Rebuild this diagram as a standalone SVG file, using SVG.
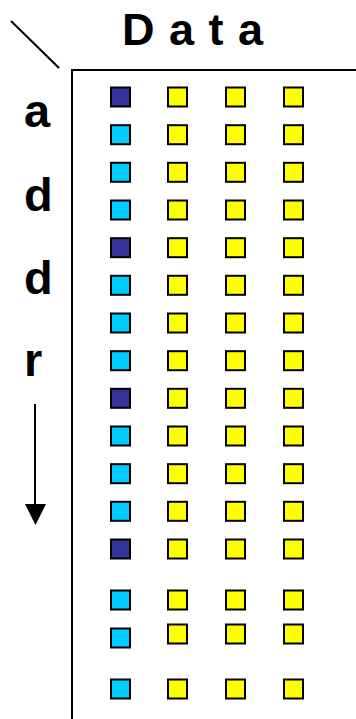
<svg xmlns="http://www.w3.org/2000/svg" width="356" height="719" viewBox="0 0 356 719">
<style>
.sq{stroke:#000;stroke-width:2}
.d{fill:#333399}
.c{fill:#00CCFF}
.y{fill:#FFFF00}
.t{font-family:"Liberation Sans",Arial,sans-serif;font-weight:bold;fill:#000}
.ln{stroke:#000;stroke-width:2;fill:none}
</style>
<defs>
<marker id="ah" markerWidth="10" markerHeight="10" refX="10" refY="5" orient="auto" markerUnits="userSpaceOnUse" viewBox="0 0 10 10">
<path d="M0,0 L10,5 L0,10 z" fill="#000"/>
</marker>
</defs>
<g id="frame">
<line class="ln" x1="11" y1="21" x2="59" y2="68"/>
<polyline class="ln" points="356,70 72,70 72,719"/>
</g>
<text id="title" class="t" x="122" y="45" font-size="45" textLength="141" lengthAdjust="spacing">D a t a</text>
<g id="axis">
<text class="t" x="24" y="127" font-size="47">a</text>
<text class="t" x="24" y="211" font-size="47">d</text>
<text class="t" x="24" y="294" font-size="47">d</text>
<text class="t" x="24" y="376" font-size="47">r</text>
</g>
<g id="connectors">
<line x1="35" y1="404" x2="35" y2="506" stroke="#000" stroke-width="2"/>
<path d="M25,504 L46,504 L35.5,525 z" fill="#000"/>
</g>
<g id="grid">
<g id="row1"><rect class="sq d" x="111" y="87.5" width="19" height="19"/><rect class="sq y" x="168" y="87.5" width="19" height="19"/><rect class="sq y" x="226" y="87.5" width="19" height="19"/><rect class="sq y" x="284" y="87.5" width="19" height="19"/></g>
<g id="row2"><rect class="sq c" x="111" y="125.2" width="19" height="19"/><rect class="sq y" x="168" y="125.2" width="19" height="19"/><rect class="sq y" x="226" y="125.2" width="19" height="19"/><rect class="sq y" x="284" y="125.2" width="19" height="19"/></g>
<g id="row3"><rect class="sq c" x="111" y="162.8" width="19" height="19"/><rect class="sq y" x="168" y="162.8" width="19" height="19"/><rect class="sq y" x="226" y="162.8" width="19" height="19"/><rect class="sq y" x="284" y="162.8" width="19" height="19"/></g>
<g id="row4"><rect class="sq c" x="111" y="200.5" width="19" height="19"/><rect class="sq y" x="168" y="200.5" width="19" height="19"/><rect class="sq y" x="226" y="200.5" width="19" height="19"/><rect class="sq y" x="284" y="200.5" width="19" height="19"/></g>
<g id="row5"><rect class="sq d" x="111" y="238.2" width="19" height="19"/><rect class="sq y" x="168" y="238.2" width="19" height="19"/><rect class="sq y" x="226" y="238.2" width="19" height="19"/><rect class="sq y" x="284" y="238.2" width="19" height="19"/></g>
<g id="row6"><rect class="sq c" x="111" y="275.8" width="19" height="19"/><rect class="sq y" x="168" y="275.8" width="19" height="19"/><rect class="sq y" x="226" y="275.8" width="19" height="19"/><rect class="sq y" x="284" y="275.8" width="19" height="19"/></g>
<g id="row7"><rect class="sq c" x="111" y="313.5" width="19" height="19"/><rect class="sq y" x="168" y="313.5" width="19" height="19"/><rect class="sq y" x="226" y="313.5" width="19" height="19"/><rect class="sq y" x="284" y="313.5" width="19" height="19"/></g>
<g id="row8"><rect class="sq c" x="111" y="351.2" width="19" height="19"/><rect class="sq y" x="168" y="351.2" width="19" height="19"/><rect class="sq y" x="226" y="351.2" width="19" height="19"/><rect class="sq y" x="284" y="351.2" width="19" height="19"/></g>
<g id="row9"><rect class="sq d" x="111" y="388.8" width="19" height="19"/><rect class="sq y" x="168" y="388.8" width="19" height="19"/><rect class="sq y" x="226" y="388.8" width="19" height="19"/><rect class="sq y" x="284" y="388.8" width="19" height="19"/></g>
<g id="row10"><rect class="sq c" x="111" y="426.5" width="19" height="19"/><rect class="sq y" x="168" y="426.5" width="19" height="19"/><rect class="sq y" x="226" y="426.5" width="19" height="19"/><rect class="sq y" x="284" y="426.5" width="19" height="19"/></g>
<g id="row11"><rect class="sq c" x="111" y="464.2" width="19" height="19"/><rect class="sq y" x="168" y="464.2" width="19" height="19"/><rect class="sq y" x="226" y="464.2" width="19" height="19"/><rect class="sq y" x="284" y="464.2" width="19" height="19"/></g>
<g id="row12"><rect class="sq c" x="111" y="501.8" width="19" height="19"/><rect class="sq y" x="168" y="501.8" width="19" height="19"/><rect class="sq y" x="226" y="501.8" width="19" height="19"/><rect class="sq y" x="284" y="501.8" width="19" height="19"/></g>
<g id="row13"><rect class="sq d" x="111" y="539.5" width="19" height="19"/><rect class="sq y" x="168" y="539.5" width="19" height="19"/><rect class="sq y" x="226" y="539.5" width="19" height="19"/><rect class="sq y" x="284" y="539.5" width="19" height="19"/></g>
<g id="row14"><rect class="sq c" x="111" y="590.5" width="19" height="19"/><rect class="sq y" x="168" y="590.5" width="19" height="19"/><rect class="sq y" x="226" y="590.5" width="19" height="19"/><rect class="sq y" x="284" y="590.5" width="19" height="19"/></g>
<g id="row15"><rect class="sq c" x="111" y="628.5" width="19" height="19"/><rect class="sq y" x="168" y="624.5" width="19" height="19"/><rect class="sq y" x="226" y="624.5" width="19" height="19"/><rect class="sq y" x="284" y="624.5" width="19" height="19"/></g>
<g id="row16"><rect class="sq c" x="111" y="679.5" width="19" height="19"/><rect class="sq y" x="168" y="679.5" width="19" height="19"/><rect class="sq y" x="226" y="679.5" width="19" height="19"/><rect class="sq y" x="284" y="679.5" width="19" height="19"/></g>
</g>
</svg>
